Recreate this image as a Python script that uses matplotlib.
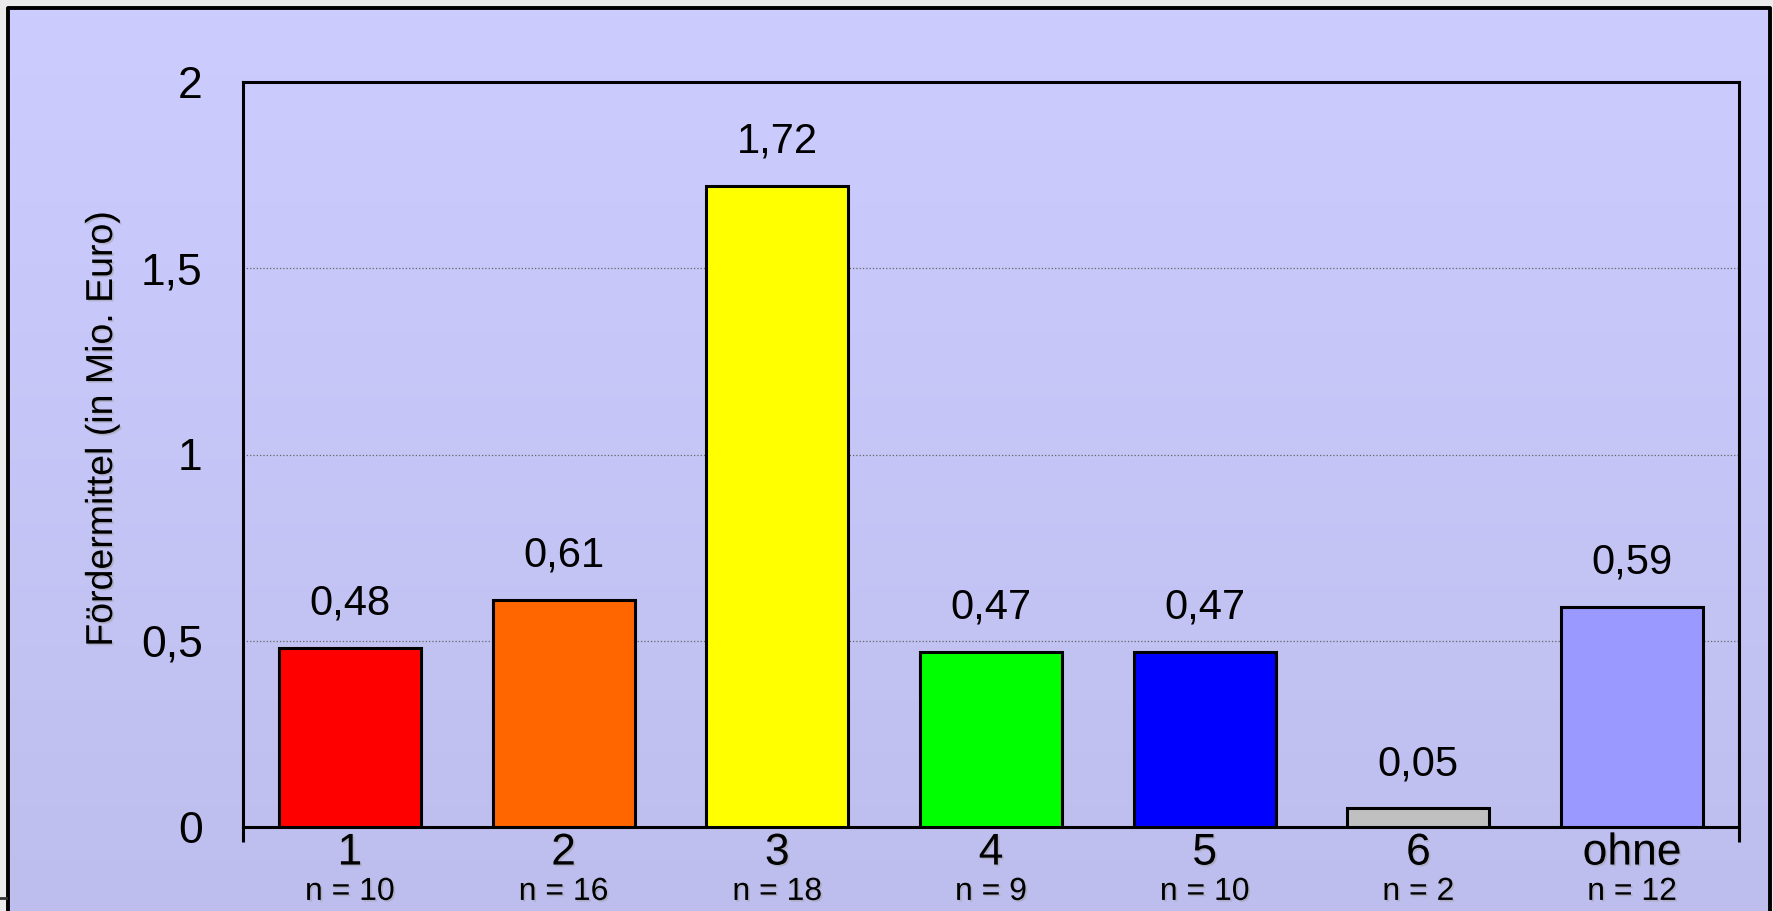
import numpy as np
import matplotlib
matplotlib.use("Agg")
import matplotlib.pyplot as plt
import matplotlib.patheffects as pe
from matplotlib.lines import Line2D

plt.rcParams["font.family"] = ["Liberation Sans", "DejaVu Sans"]

kategorien = ["1", "2", "3", "4", "5", "6", "ohne"]
werte = [0.48, 0.61, 1.72, 0.47, 0.47, 0.05, 0.59]
anzahl = [10, 16, 18, 9, 10, 2, 12]
farben = ["#FF0000", "#FF6600", "#FFFF00", "#00FF00", "#0000FF", "#C0C0C0", "#9999FF"]
y_ticks = [0, 0.5, 1, 1.5, 2]

W, H = 1773, 911
fig = plt.figure(figsize=(W / 100, H / 100), dpi=100, facecolor="#EBEBEB")

# Hintergrund mit Farbverlauf
bg = fig.add_axes([8 / W, 0, (1770 - 8) / W, 1 - 8 / H], zorder=-10)
verlauf = np.linspace(0, 1, 256).reshape(-1, 1)
oben = np.array([0xCC, 0xCC, 0xFF]) / 255
unten = np.array([0xBE, 0xBE, 0xEE]) / 255
bild = oben + (unten - oben) * verlauf[..., None]
bg.imshow(bild, aspect="auto", extent=[0, 1, 0, 1])
bg.axis("off")

# Rahmen um das Diagramm
fig.add_artist(Line2D([8 / W, 8 / W, 1770 / W, 1770 / W],
                      [-0.01, 1 - 8 / H, 1 - 8 / H, -0.01],
                      color="black", linewidth=2.8, transform=fig.transFigure))
fig.add_artist(Line2D([0, 6 / W], [1 - 898 / H, 1 - 898 / H],
                      color="#333333", linewidth=2, transform=fig.transFigure))

ax = fig.add_axes([243 / W, 1 - 827 / H, (1739 - 243) / W, (827 - 82) / H])
ax.set_facecolor("none")

x = np.arange(len(kategorien))
ax.bar(x, werte, width=0.665, color=farben, edgecolor="black", linewidth=2.2, zorder=3)

ax.set_xlim(-0.5, len(kategorien) - 0.5)
ax.set_ylim(0, 2)

schatten = [pe.withSimplePatchShadow(offset=(1.2, -1.2), shadow_rgbFace="#999999", alpha=0.45)]

ax.set_xticks(x)
ax.set_xticklabels(kategorien, fontsize=32)
for lbl in ax.get_xticklabels():
    lbl.set_path_effects(schatten)
ax.tick_params(axis="x", which="major", length=0, pad=4)
ax.set_xticks([-0.5, len(kategorien) - 0.5], minor=True)
ax.tick_params(axis="x", which="minor", length=11, width=2.2, direction="out")

ax.set_yticks(y_ticks)
ax.set_yticklabels([f"{t:g}".replace(".", ",") for t in y_ticks], fontsize=32)
ax.tick_params(axis="y", length=0, pad=29)

ax.yaxis.grid(True, linestyle=":", color="#666666", linewidth=0.9, zorder=0)
ax.set_axisbelow(True)

for s in ax.spines.values():
    s.set_linewidth(2.2)
    s.set_color("black")

for i, v in enumerate(werte):
    ax.annotate(f"{v:.2f}".replace(".", ","), (i, v), xytext=(0, 24),
                textcoords="offset points", ha="center", va="baseline", fontsize=30)
    ax.annotate(f"n = {anzahl[i]}", xy=(i, 0), xycoords=("data", "axes fraction"),
                xytext=(0, -52.5), textcoords="offset points", ha="center",
                va="baseline", fontsize=23, path_effects=schatten)

fig.text(102 / W, 1 - 429 / H, "Fördermittel (in Mio. Euro)", rotation=90,
         ha="center", va="center", fontsize=27, path_effects=schatten)

fig.savefig("out.png", dpi=100, facecolor=fig.get_facecolor())
